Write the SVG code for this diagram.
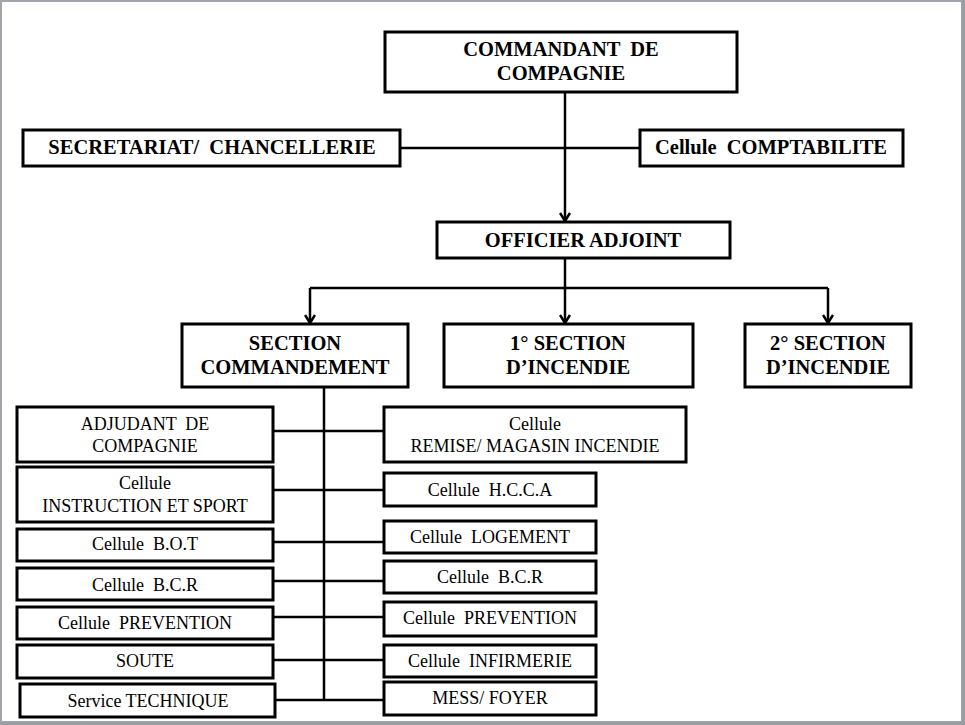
<svg xmlns="http://www.w3.org/2000/svg" width="965" height="725" viewBox="0 0 965 725">
<defs>
<style>
.box{fill:#fff;stroke:#000;stroke-width:3}
.ln{fill:none;stroke:#000;stroke-width:2.5}
.b{font-family:"Liberation Serif","Times New Roman",serif;font-weight:bold;font-size:20.5px;text-anchor:middle;fill:#000;white-space:pre}
.r{font-family:"Liberation Serif","Times New Roman",serif;font-size:18px;text-anchor:middle;fill:#000;white-space:pre}
</style>
<marker id="arr" viewBox="0 0 10 12" refX="9" refY="6" markerWidth="10" markerHeight="12" markerUnits="userSpaceOnUse" orient="auto">
<polyline points="1,1 9,6 1,11" fill="none" stroke="#000" stroke-width="2.5"/>
</marker>
</defs>
<rect x="0" y="0" width="965" height="725" fill="#fff"/>
<rect x="1" y="1" width="961" height="721" fill="none" stroke="#a2a6ab" stroke-width="2"/>
<rect x="962" y="0" width="3" height="725" fill="#9a9ea3"/>
<rect x="0" y="722" width="965" height="3" fill="#9a9ea3"/>

<g id="connectors">
<path class="ln" d="M565,92 L565,221" marker-end="url(#arr)"/>
<path class="ln" d="M400,148 L640,148"/>
<path class="ln" d="M310,288 L828,288"/>
<path class="ln" d="M310,288 L310,323" marker-end="url(#arr)"/>
<path class="ln" d="M828,288 L828,323" marker-end="url(#arr)"/>
<path class="ln" d="M565,258 L565,323" marker-end="url(#arr)"/>
<path class="ln" d="M324,387 L324,700"/>
<path class="ln" d="M273,431 L384,431"/>
<path class="ln" d="M273,490 L384,490"/>
<path class="ln" d="M273,542 L384,542"/>
<path class="ln" d="M273,581 L384,581"/>
<path class="ln" d="M273,617 L384,617"/>
<path class="ln" d="M273,660 L384,660"/>
<path class="ln" d="M275,700 L384,700"/>
</g>

<g id="commandant"><rect class="box" x="385" y="32" width="352" height="60"/>
<text class="b" x="561" y="56">COMMANDANT  DE</text><text class="b" x="561" y="80">COMPAGNIE</text></g>
<g id="secretariat"><rect class="box" x="23" y="130" width="377" height="36"/>
<text class="b" x="212" y="154">SECRETARIAT/  CHANCELLERIE</text></g>
<g id="comptabilite"><rect class="box" x="640" y="130" width="263" height="36"/>
<text class="b" x="771" y="154">Cellule  COMPTABILITE</text></g>
<g id="officier"><rect class="box" x="437" y="222" width="293" height="36"/>
<text class="b" x="583" y="247">OFFICIER ADJOINT</text></g>
<g id="section-cmd"><rect class="box" x="182" y="324" width="226" height="63"/>
<text class="b" x="295" y="350">SECTION</text><text class="b" x="295" y="374">COMMANDEMENT</text></g>
<g id="section1"><rect class="box" x="444" y="324" width="249" height="63"/>
<text class="b" x="568" y="350">1° SECTION</text><text class="b" x="568" y="374">D’INCENDIE</text></g>
<g id="section2"><rect class="box" x="745" y="324" width="166" height="63"/>
<text class="b" x="828" y="350">2° SECTION</text><text class="b" x="828" y="374">D’INCENDIE</text></g>

<g id="adjudant"><rect class="box" x="17" y="407" width="256" height="55"/>
<text class="r" x="145" y="430">ADJUDANT  DE</text><text class="r" x="145" y="452">COMPAGNIE</text></g>
<g id="instruction"><rect class="box" x="17" y="467" width="256" height="55"/>
<text class="r" x="145" y="489">Cellule</text><text class="r" x="145" y="512">INSTRUCTION ET SPORT</text></g>
<g id="bot"><rect class="box" x="17" y="529" width="256" height="32"/>
<text class="r" x="145" y="550">Cellule  B.O.T</text></g>
<g id="bcr-l"><rect class="box" x="17" y="568" width="256" height="32"/>
<text class="r" x="145" y="591">Cellule  B.C.R</text></g>
<g id="prev-l"><rect class="box" x="17" y="607" width="256" height="32"/>
<text class="r" x="145" y="629">Cellule  PREVENTION</text></g>
<g id="soute"><rect class="box" x="17" y="645" width="256" height="33"/>
<text class="r" x="145" y="667">SOUTE</text></g>
<g id="technique"><rect class="box" x="20" y="684" width="255" height="33"/>
<text class="r" x="148" y="707">Service TECHNIQUE</text></g>

<g id="remise"><rect class="box" x="384" y="407" width="302" height="55"/>
<text class="r" x="535" y="430">Cellule</text><text class="r" x="535" y="452">REMISE/ MAGASIN INCENDIE</text></g>
<g id="hcca"><rect class="box" x="384" y="473" width="212" height="33"/>
<text class="r" x="490" y="496">Cellule  H.C.C.A</text></g>
<g id="logement"><rect class="box" x="384" y="521" width="212" height="32"/>
<text class="r" x="490" y="543">Cellule  LOGEMENT</text></g>
<g id="bcr-r"><rect class="box" x="384" y="561" width="212" height="32"/>
<text class="r" x="490" y="583">Cellule  B.C.R</text></g>
<g id="prev-r"><rect class="box" x="384" y="602" width="212" height="34"/>
<text class="r" x="490" y="624">Cellule  PREVENTION</text></g>
<g id="infirmerie"><rect class="box" x="384" y="645" width="212" height="32"/>
<text class="r" x="490" y="667">Cellule  INFIRMERIE</text></g>
<g id="mess"><rect class="box" x="384" y="682" width="212" height="33"/>
<text class="r" x="490" y="704">MESS/ FOYER</text></g>
</svg>
